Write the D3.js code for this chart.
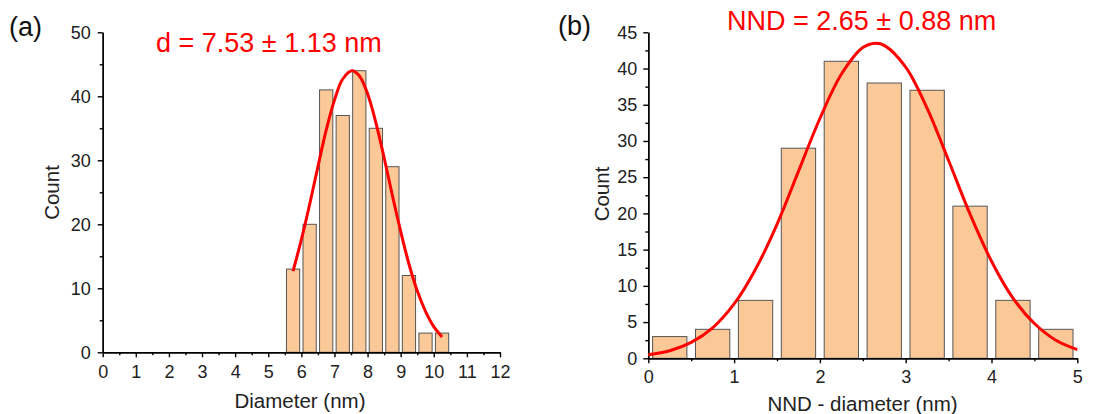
<!DOCTYPE html>
<html><head><meta charset="utf-8">
<script src="https://cdn.jsdelivr.net/npm/d3@7"></script>
<style>
html,body{margin:0;padding:0;background:#fff;}
svg{display:block;font-family:Arial,"Liberation Sans",sans-serif;}
</style></head>
<body>
<svg id="c" width="1093" height="414"></svg>
<script>
// ---------- data ----------
const binWidth = 0.5;
// (a) diameter histogram
const leftBinStarts = [5.5, 6.0, 6.5, 7.0, 7.5, 8.0, 8.5, 9.0, 9.5, 10.0];
const leftCounts    = [13, 20, 41, 37, 44, 35, 29, 12, 3, 3];
const leftFitX = [5.75, 6.0, 6.25, 6.5, 6.75, 7.0, 7.25, 7.53, 7.75, 8.0, 8.25, 8.5, 8.75, 9.0, 9.25, 9.5, 9.75, 10.0, 10.25];
const leftFitY = [12.7, 17.6, 23.1, 29.0, 34.7, 39.4, 42.7, 44.0, 43.2, 40.4, 35.9, 30.4, 24.5, 18.9, 13.8, 9.6, 6.4, 4.0, 2.4];
const leftXTicks = [0,1,2,3,4,5,6,7,8,9,10,11,12];
const leftYTicks = [0,10,20,30,40,50];
const leftTitle = "d = 7.53 \u00B1 1.13 nm";

// (b) NND histogram
const rightBinStarts = [0, 0.5, 1.0, 1.5, 2.0, 2.5, 3.0, 3.5, 4.0, 4.5];
const rightCounts    = [3, 4, 8, 29, 41, 38, 37, 21, 8, 4];
const rightFitX = [0, 0.25, 0.5, 0.75, 1.0, 1.25, 1.5, 1.75, 2.0, 2.25, 2.5, 2.65, 2.75, 3.0, 3.25, 3.5, 3.75, 4.0, 4.25, 4.5, 4.75, 5.0];
const rightFitY = [0.5, 1.05, 2.2, 4.2, 7.5, 12.3, 18.5, 25.8, 33.1, 39.2, 42.9, 43.5, 43.2, 40.2, 34.5, 27.3, 19.9, 13.4, 8.3, 4.8, 2.5, 1.2];
const rightXTicks = [0,1,2,3,4,5];
const rightYTicks = [0,5,10,15,20,25,30,35,40,45];
const rightTitle = "NND = 2.65 \u00B1 0.88 nm";

// ---------- drawing ----------
const svg = d3.select("#c");
const FONT = 'Arial,"Liberation Sans",sans-serif';

function panel(o){
  const g = svg.append("g");
  const x = d3.scaleLinear().domain(o.xDomain).range(o.xRange);
  const y = d3.scaleLinear().domain(o.yDomain).range(o.yRange);

  // bars
  g.selectAll("rect.bar").data(o.binStarts.map((b,i)=>({b, c:o.counts[i]})))
    .join("rect").attr("class","bar")
    .attr("x", d=>x(d.b + binWidth*0.1))
    .attr("width", d=>x(d.b + binWidth*0.9) - x(d.b + binWidth*0.1))
    .attr("y", d=>y(d.c))
    .attr("height", d=>y(0)-y(d.c))
    .attr("fill","#FBC898").attr("stroke","#555").attr("stroke-width",1);

  // minor ticks
  const minorX = d3.axisBottom(x).tickValues(o.xMinor).tickSize(3).tickFormat("").tickSizeOuter(0);
  const minorY = d3.axisLeft(y).tickValues(o.yMinor).tickSize(3).tickFormat("").tickSizeOuter(0);
  const majorX = d3.axisBottom(x).tickValues(o.xTicks).tickSize(5).tickPadding(o.xPad).tickSizeOuter(0).tickFormat(d3.format("d"));
  const majorY = d3.axisLeft(y).tickValues(o.yTicks).tickSize(5).tickPadding(o.yPad).tickSizeOuter(0).tickFormat(d3.format("d"));

  const ax = (gen, tr) => {
    const a = g.append("g").attr("transform", tr).call(gen);
    a.selectAll("path,line").attr("stroke","#000").attr("stroke-width",1.4);
    a.selectAll("text").attr("font-size",18).attr("font-family",FONT).attr("fill","#222");
    return a;
  };
  ax(minorX, `translate(0,${y(0)})`);
  ax(minorY, `translate(${x(o.xDomain[0])},0)`);
  ax(majorX, `translate(0,${y(0)})`);
  ax(majorY, `translate(${x(o.xDomain[0])},0)`);

  // fit curve
  const line = d3.line().x(d=>x(d[0])).y(d=>y(d[1])).curve(d3.curveCatmullRom);
  g.append("path").datum(o.fitX.map((v,i)=>[v,o.fitY[i]]))
    .attr("d", line).attr("fill","none").attr("stroke","#FF0000").attr("stroke-width",3);

  // texts
  g.append("text").attr("x",o.titleX).attr("y",o.titleY).attr("font-size",27).attr("fill","#FF0000")
    .attr("font-family",FONT).text(o.title);
  g.append("text").attr("x",o.tagX).attr("y",o.tagY).attr("font-size",27).attr("fill","#111")
    .attr("font-family",FONT).text(o.tag);
  g.append("text").attr("transform",`translate(${o.yLabX},${o.yLabY}) rotate(-90)`)
    .attr("text-anchor","middle").attr("font-size",20.5).attr("fill","#222").attr("font-family",FONT).text("Count");
  g.append("text").attr("x",o.xLabX).attr("y",o.xLabY).attr("text-anchor","middle")
    .attr("font-size",20.5).attr("fill","#222").attr("font-family",FONT).text(o.xLabel);
}

panel({
  xDomain:[0,12], xRange:[102.7,500], yDomain:[0,50], yRange:[352.3,32.3],
  binStarts:leftBinStarts, counts:leftCounts, fitX:leftFitX, fitY:leftFitY,
  xTicks:leftXTicks, yTicks:leftYTicks,
  xMinor:d3.range(0.5,12,1), yMinor:d3.range(5,50,10),
  xPad:8, yPad:7,
  title:leftTitle, titleX:156, titleY:52,
  tag:"(a)", tagX:9, tagY:36,
  yLabX:59, yLabY:192.5,
  xLabel:"Diameter (nm)", xLabX:300, xLabY:408
});
panel({
  xDomain:[0,5], xRange:[648.3,1077.3], yDomain:[0,45], yRange:[358.3,32.3],
  binStarts:rightBinStarts, counts:rightCounts, fitX:rightFitX, fitY:rightFitY,
  xTicks:rightXTicks, yTicks:rightYTicks,
  xMinor:d3.range(0.5,5,1), yMinor:d3.range(2.5,45,5),
  xPad:7, yPad:6,
  title:rightTitle, titleX:727, titleY:30,
  tag:"(b)", tagX:558, tagY:35,
  yLabX:609, yLabY:194,
  xLabel:"NND - diameter (nm)", xLabX:862.5, xLabY:411
});
</script>
</body></html>
